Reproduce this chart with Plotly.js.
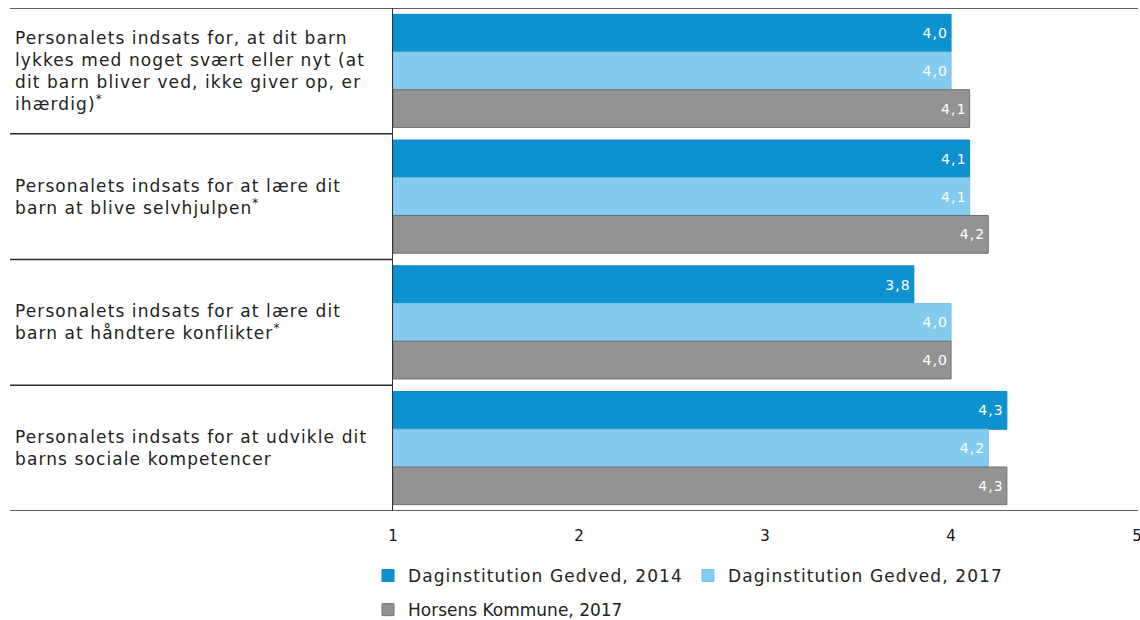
<!DOCTYPE html>
<html>
<head>
<meta charset="utf-8">
<script src="https://cdn.plot.ly/plotly-3.0.1.min.js"></script>
<style>
html,body{margin:0;padding:0;background:#fff;}
#chart{width:1140px;height:620px;}
text.annotation-text, text.legendtext, text.bartext { letter-spacing: 1.1px; }
</style>
</head>
<body>
<div id="chart"></div>
<script>
const categories = [
  "Personalets indsats for, at dit barn<br>lykkes med noget svært eller nyt (at<br>dit barn bliver ved, ikke giver op, er<br>ihærdig)<sup>*</sup>",
  "Personalets indsats for at lære dit<br>barn at blive selvhjulpen<sup>*</sup>",
  "Personalets indsats for at lære dit<br>barn at håndtere konflikter<sup>*</sup>",
  "Personalets indsats for at udvikle dit<br>barns sociale kompetencer"
];
const seriesNames = ["Daginstitution Gedved, 2014", "Daginstitution Gedved, 2017", "Horsens Kommune, 2017"];
const gedved2014 = [4.0, 4.1, 3.8, 4.3];
const gedved2017 = [4.0, 4.1, 4.0, 4.2];
const horsens2017 = [4.1, 4.2, 4.0, 4.3];
const tickValues = [1, 2, 3, 4, 5];
const tickLabels = ["1", "2", "3", "4", "5"];

const colors = ["#0e92cf", "#84ccef", "#939393"];
const lineColors = ["#0b88c4", "#78c2e6", "#707070"];
const catIdx = categories.map((c, i) => i);
const fmt = v => v.toFixed(1).replace('.', ',');

const seriesValues = [gedved2014, gedved2017, horsens2017];
const AXIS_START = 1;
const traces = seriesValues.map((vals, k) => ({
  type: 'bar',
  orientation: 'h',
  name: seriesNames[k],
  y: catIdx,
  x: vals.map(v => v - AXIS_START),
  base: AXIS_START,
  text: vals.map(fmt),
  textposition: 'inside',
  insidetextanchor: 'end',
  constraintext: 'none',
  textangle: 0,
  textfont: {family: 'DejaVu Sans', size: 14, color: '#ffffff'},
  marker: {color: colors[k], line: {color: lineColors[k], width: 1}},
  legend: k < 2 ? 'legend' : 'legend2',
  hoverinfo: 'skip'
}));

const L = 393, R = 2, W = 1140;
const pw = W - L - R;
const px = p => (p - L) / pw;

const shapes = [];
[-0.5, categories.length - 0.5].forEach(yv => shapes.push({
  type: 'line', xref: 'paper', yref: 'y', x0: px(10), x1: 1, y0: yv, y1: yv,
  line: {color: '#2a2a2a', width: 1.5}
}));
for (let i = 0; i < categories.length - 1; i++) {
  shapes.push({type: 'line', xref: 'paper', yref: 'y', x0: px(10), x1: 0, y0: i + 0.5, y1: i + 0.5,
    line: {color: '#2a2a2a', width: 1.5}});
}

const annotations = categories.map((c, i) => ({
  text: c, xref: 'paper', yref: 'y', x: px(13), y: i,
  xanchor: 'left', yanchor: 'middle', align: 'left', showarrow: false,
  font: {family: 'DejaVu Sans', size: 17, color: '#222'}
}));

const legendFont = {family: 'DejaVu Sans', size: 17, color: '#222'};
const layout = {
  width: 1140, height: 620,
  margin: {l: L, r: R, t: 8, b: 109},
  paper_bgcolor: '#fff', plot_bgcolor: '#fff',
  barmode: 'group', bargap: 0.1, bargroupgap: 0,
  hovermode: false,
  xaxis: {
    range: [1, 5.005], tickvals: tickValues, ticktext: tickLabels,
    showgrid: false, zeroline: false, showline: false, ticks: '',
    tickfont: {family: 'DejaVu Sans', size: 15, color: '#111'},
    ticklabelstandoff: 14, ticklabeloverflow: 'allow'
  },
  yaxis: {
    type: 'linear', range: [categories.length - 0.5, -0.5],
    showticklabels: false, showgrid: false, zeroline: false,
    showline: true, linecolor: '#333', linewidth: 1, ticks: ''
  },
  showlegend: true,
  legend: {
    orientation: 'h', xref: 'container', yref: 'container',
    x: 368 / W, y: 0.071, xanchor: 'left', yanchor: 'middle',
    font: legendFont, bgcolor: 'rgba(0,0,0,0)', traceorder: 'normal'
  },
  legend2: {
    orientation: 'h', xref: 'container', yref: 'container',
    x: 368 / W, y: 0.016, xanchor: 'left', yanchor: 'middle',
    font: legendFont, bgcolor: 'rgba(0,0,0,0)'
  },
  shapes: shapes,
  annotations: annotations
};

Plotly.newPlot('chart', traces, layout, {displayModeBar: false, staticPlot: true});
</script>
</body>
</html>
